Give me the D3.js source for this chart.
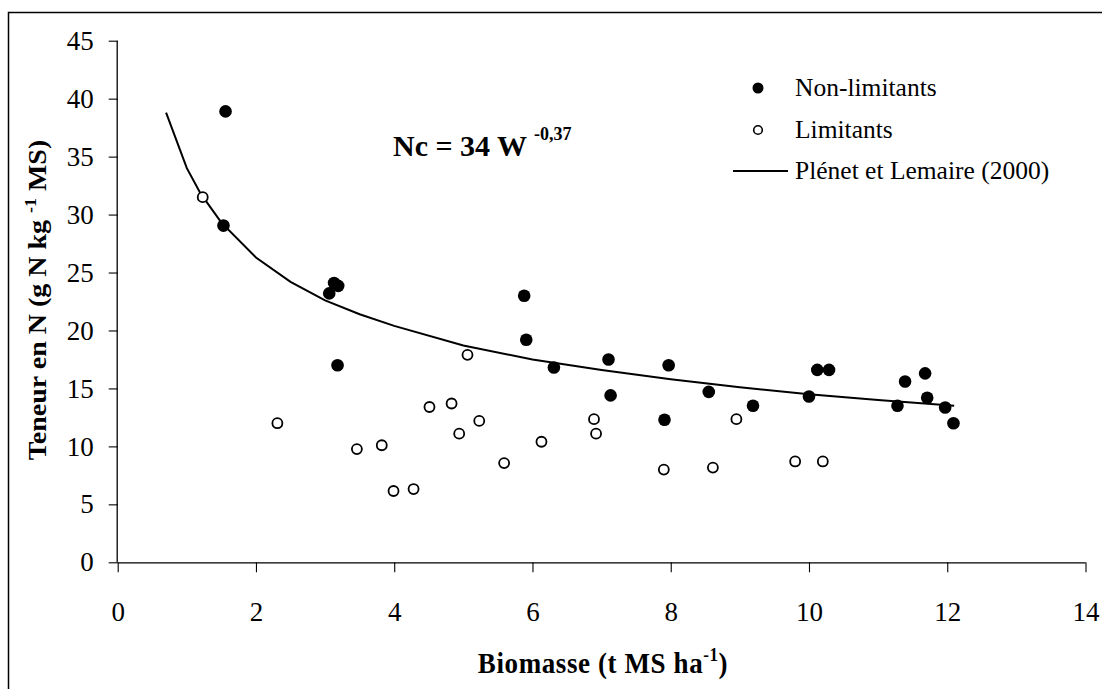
<!DOCTYPE html>
<html lang="fr">
<head>
<meta charset="UTF-8">
<title>Teneur en N - Biomasse</title>
<script src="https://d3js.org/d3.v7.min.js"></script>
<style>
    body { margin: 0; background: #fff; }
    svg { display: block; }
    text { font-family: "Liberation Serif", "Times New Roman", serif; fill: #000; }
</style>
</head>
<body>
<svg id="chart" width="1102" height="689"></svg>
<script>
// non-limiting points (biomass, N content)
const nonLimX = [1.56, 1.53, 3.06, 3.13, 3.19, 3.18, 5.88, 5.91, 6.31, 7.10, 7.13, 7.97, 7.91, 8.55, 9.19, 10.0, 10.12, 10.29, 11.28, 11.39, 11.68, 11.71, 11.97, 12.09];
const nonLimY = [38.9, 29.05, 23.2, 24.1, 23.85, 17.0, 23.0, 19.2, 16.8, 17.5, 14.4, 17.0, 12.3, 14.7, 13.5, 14.3, 16.6, 16.6, 13.5, 15.6, 16.3, 14.2, 13.35, 12.0];

// limiting points
const limX = [1.23, 2.31, 3.46, 3.82, 3.99, 4.28, 4.51, 4.83, 4.94, 5.06, 5.23, 5.59, 6.13, 6.89, 6.92, 7.90, 8.61, 8.95, 9.80, 10.20];
const limY = [31.5, 12.0, 9.77, 10.1, 6.15, 6.32, 13.4, 13.7, 11.1, 17.9, 12.2, 8.56, 10.4, 12.35, 11.1, 8.0, 8.17, 12.35, 8.7, 8.7];

// Plénet et Lemaire (2000) curve
const curveX = [0.7, 1.0, 1.2, 1.5, 2.0, 2.5, 3.0, 3.5, 4, 5, 6, 7, 8, 9, 10, 11, 12.1];
const curveY = [38.8, 34.0, 31.8, 29.3, 26.3, 24.2, 22.6, 21.4, 20.4, 18.7, 17.5, 16.6, 15.8, 15.1, 14.5, 14.0, 13.5];

const xTicks = [0, 2, 4, 6, 8, 10, 12, 14];
const yTicks = [0, 5, 10, 15, 20, 25, 30, 35, 40, 45];

const svg = d3.select("#chart");

// frame (left and top edges only, as in the original)
svg.append("path")
    .attr("d", "M8.5,689 V12.5 H1102")
    .attr("fill", "none")
    .attr("stroke", "#000")
    .attr("stroke-width", 1.5);

const x = d3.scaleLinear().domain([0, 14]).range([117.7, 1085.5]);
const y = d3.scaleLinear().domain([0, 45]).range([562.3, 40.7]);

// axes
const xAxis = svg.append("g")
    .attr("transform", `translate(0,${y(0)})`)
    .call(d3.axisBottom(x).tickValues(xTicks).tickSize(10).tickPadding(30).tickFormat(d3.format("d")));
const yAxis = svg.append("g")
    .attr("transform", `translate(${x(0)},0)`)
    .call(d3.axisLeft(y).tickValues(yTicks).tickSize(9).tickPadding(15).tickFormat(d3.format("d")));

[xAxis, yAxis].forEach(g => {
    g.select(".domain").attr("stroke", "#000").attr("stroke-width", 1.3);
    g.selectAll(".tick line").attr("stroke", "#000").attr("stroke-width", 1.1);
    g.selectAll(".tick text")
        .style("font-family", "'Liberation Serif', serif")
        .style("font-size", "27px")
        .attr("fill", "#000");
});
// keep only the axis line without the outer tick caps
xAxis.select(".domain").attr("d", `M${x(0)},0.5 H${x(14)}`);
yAxis.select(".domain").attr("d", `M-0.5,${y(0)} V${y(45)}`);

// curve
const line = d3.line().x(d => x(d[0])).y(d => y(d[1]));
svg.append("path")
    .datum(d3.zip(curveX, curveY))
    .attr("d", line)
    .attr("fill", "none")
    .attr("stroke", "#000")
    .attr("stroke-width", 2);

// limiting: open circles
svg.selectAll(".lim")
    .data(d3.zip(limX, limY))
    .join("circle")
    .attr("class", "lim")
    .attr("cx", d => x(d[0]))
    .attr("cy", d => y(d[1]))
    .attr("r", 5)
    .attr("fill", "#fff")
    .attr("stroke", "#000")
    .attr("stroke-width", 1.8);

// non-limiting: filled dots
svg.selectAll(".nonlim")
    .data(d3.zip(nonLimX, nonLimY))
    .join("circle")
    .attr("class", "nonlim")
    .attr("cx", d => x(d[0]))
    .attr("cy", d => y(d[1]))
    .attr("r", 6.3)
    .attr("fill", "#000");

// equation
const eq = svg.append("text")
    .attr("x", 393)
    .attr("y", 156)
    .style("font-size", "30px")
    .style("font-weight", "bold");
eq.append("tspan").text("Nc = 34 W ");
eq.append("tspan").attr("dy", -16).style("font-size", "18px").text("-0,37");

// legend
const legend = svg.append("g").attr("transform", "translate(733,0)");
legend.append("circle").attr("cx", 25).attr("cy", 88).attr("r", 5.5).attr("fill", "#000");
legend.append("circle").attr("cx", 25).attr("cy", 130).attr("r", 4.3).attr("fill", "#fff")
    .attr("stroke", "#000").attr("stroke-width", 1.6);
legend.append("line").attr("x1", 0).attr("x2", 55).attr("y1", 171).attr("y2", 171)
    .attr("stroke", "#000").attr("stroke-width", 2);
const legendText = [["Non-limitants", 96], ["Limitants", 138], ["Plénet et Lemaire (2000)", 179]];
legend.selectAll(".lt")
    .data(legendText)
    .join("text")
    .attr("class", "lt")
    .attr("x", 62)
    .attr("y", d => d[1])
    .style("font-size", "25.5px")
    .text(d => d[0]);

// axis titles (the original glyphs are drawn a little tall, hence the scale)
const xt = svg.append("text")
    .attr("transform", "translate(603,673) scale(1,1.1)")
    .attr("text-anchor", "middle")
    .style("font-size", "27px")
    .style("font-weight", "bold")
    .style("letter-spacing", "0.6px");
xt.append("tspan").text("Biomasse (t MS ha");
xt.append("tspan").attr("dy", -11).style("font-size", "17px").text("-1");
xt.append("tspan").attr("dy", 11).text(")");

const yt = svg.append("text")
    .attr("transform", "translate(46,300) rotate(-90) scale(1.12,1)")
    .attr("text-anchor", "middle")
    .style("font-size", "25px")
    .style("font-weight", "bold");
yt.append("tspan").text("Teneur en N (g N kg ");
yt.append("tspan").attr("dy", -10).style("font-size", "16px").text("-1");
yt.append("tspan").attr("dy", 10).text(" MS)");
</script>
</body>
</html>
